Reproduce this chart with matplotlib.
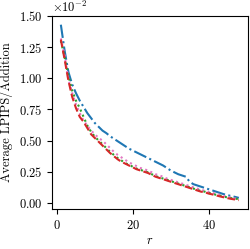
import matplotlib
matplotlib.use("Agg")
import matplotlib.pyplot as plt
from matplotlib.ticker import ScalarFormatter
import numpy as np

plt.rcParams.update({
    "font.family": "serif",
    "font.serif": ["cmr10", "DejaVu Serif"],
    "mathtext.fontset": "cm",
    "axes.formatter.use_mathtext": True,
    "font.size": 9,
})

r = list(range(1, 49))

blue = [1.43, 1.22, 1.05, 0.95, 0.88, 0.82, 0.77, 0.72, 0.68, 0.64,
        0.61, 0.58, 0.56, 0.535, 0.515, 0.495, 0.475, 0.455, 0.435, 0.42,
        0.405, 0.39, 0.375, 0.36, 0.345, 0.33, 0.315, 0.30, 0.28, 0.26,
        0.245, 0.23, 0.22, 0.21, 0.17, 0.15, 0.14, 0.13, 0.12, 0.11,
        0.10, 0.09, 0.08, 0.07, 0.062, 0.055, 0.048, 0.04]

green = [1.30, 1.17, 1.02, 0.90, 0.82, 0.76, 0.69, 0.62, 0.57, 0.53,
         0.50, 0.47, 0.44, 0.41, 0.385, 0.36, 0.34, 0.32, 0.305, 0.29,
         0.275, 0.265, 0.255, 0.245, 0.23, 0.215, 0.205, 0.195, 0.185, 0.175,
         0.165, 0.155, 0.145, 0.135, 0.125, 0.115, 0.105, 0.095, 0.09, 0.08,
         0.073, 0.065, 0.058, 0.05, 0.044, 0.038, 0.034, 0.03]

red = [1.31, 1.15, 0.98, 0.85, 0.76, 0.69, 0.65, 0.60, 0.55, 0.52,
       0.49, 0.46, 0.43, 0.40, 0.375, 0.35, 0.33, 0.315, 0.30, 0.285,
       0.27, 0.26, 0.25, 0.24, 0.225, 0.21, 0.20, 0.19, 0.18, 0.17,
       0.16, 0.15, 0.14, 0.13, 0.12, 0.11, 0.10, 0.09, 0.085, 0.075,
       0.068, 0.06, 0.052, 0.045, 0.038, 0.032, 0.027, 0.022]

pink = [1.32, 1.18, 0.99, 0.88, 0.79, 0.72, 0.66, 0.62, 0.58, 0.55,
        0.52, 0.50, 0.47, 0.44, 0.41, 0.385, 0.365, 0.345, 0.325, 0.31,
        0.295, 0.28, 0.27, 0.26, 0.245, 0.23, 0.22, 0.21, 0.195, 0.185,
        0.175, 0.165, 0.155, 0.145, 0.135, 0.125, 0.115, 0.105, 0.097, 0.088,
        0.08, 0.072, 0.064, 0.056, 0.049, 0.042, 0.036, 0.03]

scale = 1e-2

fig = plt.figure(figsize=(2.51, 2.49), dpi=100)
ax = fig.add_axes([0.207, 0.161, 0.78, 0.775])

ax.plot(r, np.array(blue) * scale, color="C0", ls="-.", lw=1.5)
ax.plot(r, np.array(pink) * scale, color="C6", ls=":", lw=1.5)
ax.plot(r, np.array(green) * scale, color="C2", ls=":", lw=1.5)
ax.plot(r, np.array(red) * scale, color="C3", ls="--", lw=1.5)

fmt = ScalarFormatter(useMathText=True)
fmt.set_powerlimits((0, 0))
ax.yaxis.set_major_formatter(fmt)
ax.set_yticks(np.array([0.0, 0.25, 0.5, 0.75, 1.0, 1.25, 1.5]) * scale)
ax.set_xticks([0, 20, 40])
ax.set_xlabel("$r$", labelpad=2)
ax.set_ylabel("Average LPIPS/Addition")

fig.savefig("out.png", dpi=100)
